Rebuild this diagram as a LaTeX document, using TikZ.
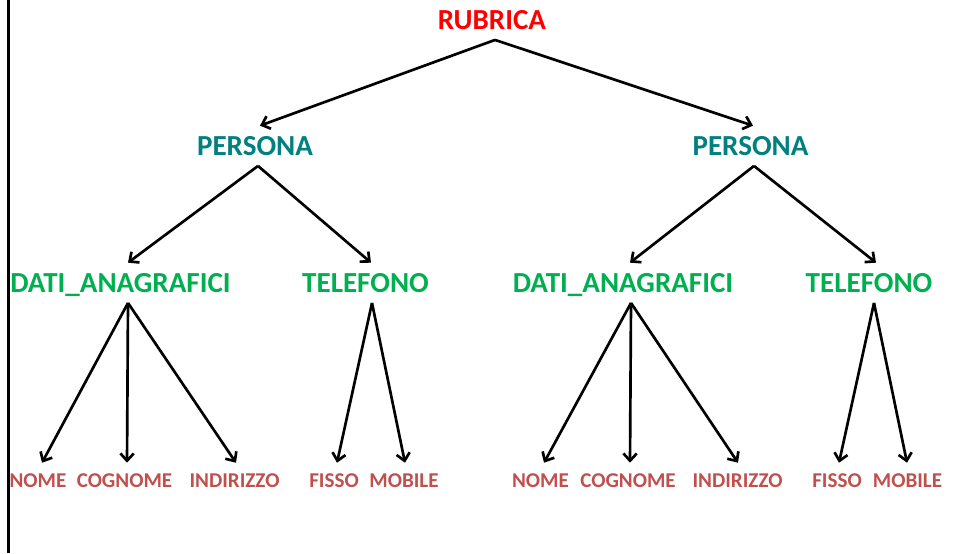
\documentclass[tikz,border=0pt]{standalone}
\usepackage{fontspec}
\setmainfont{Carlito}
\usetikzlibrary{arrows.meta,calc}
\definecolor{rubred}{HTML}{FF0000}
\definecolor{perteal}{HTML}{008080}
\definecolor{lvgreen}{HTML}{00B050}
\definecolor{leafred}{HTML}{C0504D}
\tikzset{
  big/.style={font=\fontsize{21.8}{26}\selectfont\bfseries, text height=13.8pt, text depth=0pt, inner xsep=0pt, inner ysep=8pt, anchor=base},
  leaf/.style={font=\fontsize{15.8}{19}\selectfont\bfseries, text=leafred, text height=10pt, text depth=0pt, inner xsep=0pt, inner ysep=8pt, anchor=base},
  arr/.style={line width=2pt, -{Straight Barb[length=5.5pt,width=10pt]}},
}
\begin{document}
\begin{tikzpicture}[x=0.75pt,y=-0.75pt]
\useasboundingbox (0,0) rectangle (955,553);
\draw[line width=2pt] (8.7,0) coordinate (lt) -- (8.7,553) coordinate (lb);
% nodes
\node[big,text=rubred] (rub) at (492,29) {RUBRICA};
\node[big,text=perteal] (pL) at (255,155) {PERSONA};
\node[big,text=perteal] (pR) at (750.5,155) {PERSONA};
\node[big,text=lvgreen] (dL) at (120.5,292) {DATI\_ANAGRAFICI};
\node[big,text=lvgreen] (tL) at (365.5,292) {TELEFONO};
\node[big,text=lvgreen] (dR) at (623,292) {DATI\_ANAGRAFICI};
\node[big,text=lvgreen] (tR) at (869,292) {TELEFONO};
\node[leaf] (nL) at (38,487) {NOME};
\node[leaf] (cL) at (124.5,487) {COGNOME};
\node[leaf] (iL) at (234.5,487) {INDIRIZZO};
\node[leaf] (fL) at (334,487) {FISSO};
\node[leaf] (mL) at (404,487) {MOBILE};
\node[leaf] (nR) at (540.5,487) {NOME};
\node[leaf] (cR) at (628,487) {COGNOME};
\node[leaf] (iR) at (737.5,487) {INDIRIZZO};
\node[leaf] (fR) at (837,487) {FISSO};
\node[leaf] (mR) at (907.5,487) {MOBILE};
% connectors
\draw[arr] ($(rub.south)+(3,0)$) -- ($(pL.north)+(5,0)$);
\draw[arr] ($(rub.south)+(3,0)$) -- ($(pR.north)+(2.5,0)$);
\draw[arr] ($(pL.south)+(3,0)$) -- ($(dL.north)+(7.5,0)$);
\draw[arr] ($(pL.south)+(3,0)$) -- ($(tL.north)+(5.5,0)$);
\draw[arr] ($(pR.south)+(3.5,0)$) -- ($(dR.north)+(7,0)$);
\draw[arr] ($(pR.south)+(3.5,0)$) -- ($(tR.north)+(7,0)$);
\draw[arr] ($(dL.south)+(7.5,0)$) -- ($(nL.north)+(4,0)$);
\draw[arr] ($(dL.south)+(7.5,0)$) -- ($(cL.north)+(2.5,0)$);
\draw[arr] ($(dL.south)+(7.5,0)$) -- ($(iL.north)+(1.5,0)$);
\draw[arr] ($(tL.south)+(6.5,0)$) -- ($(fL.north)+(3,0)$);
\draw[arr] ($(tL.south)+(6.5,0)$) -- ($(mL.north)+(1,0)$);
\draw[arr] ($(dR.south)+(8,0)$) -- ($(nR.north)+(3.5,0)$);
\draw[arr] ($(dR.south)+(8,0)$) -- ($(cR.north)+(2,0)$);
\draw[arr] ($(dR.south)+(8,0)$) -- ($(iR.north)+(0.5,0)$);
\draw[arr] ($(tR.south)+(5,0)$) -- ($(fR.north)+(2,0)$);
\draw[arr] ($(tR.south)+(5,0)$) -- ($(mR.north)+(-0.5,0)$);
\end{tikzpicture}
\end{document}
